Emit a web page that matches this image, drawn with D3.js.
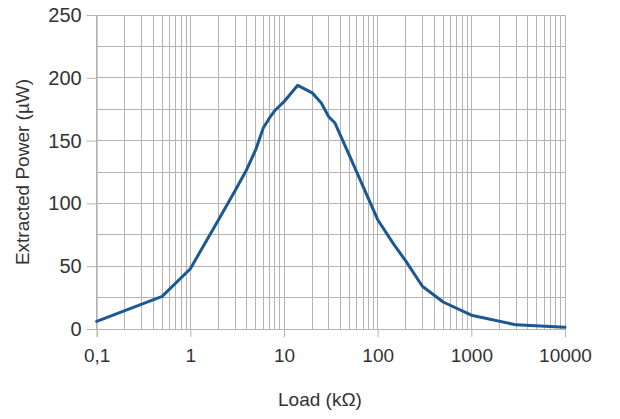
<!DOCTYPE html>
<html>
<head>
<meta charset="utf-8">
<script src="https://cdn.jsdelivr.net/npm/d3@7"></script>
<style>
  body { margin: 0; background: #fff; }
  text { font-family: "Liberation Sans", Arial, sans-serif; fill: #333; }
</style>
</head>
<body>
<div id="chart"></div>
<script>
// valeurs
const loads = [0.1, 0.5, 1, 2, 3, 4, 5, 6, 7, 8, 10, 14, 20, 25, 30, 35, 50, 100, 150, 200, 300, 500, 1000, 3000, 10000];
const power = [6, 26, 48, 87, 110, 127, 143, 160, 168, 174, 181, 194, 188, 180, 169, 164, 138, 87, 67, 54, 34, 21.5, 11, 3.3, 1.3];

const xMajor = [0.1, 1, 10, 100, 1000, 10000];
const xLabels = ["0,1", "1", "10", "100", "1000", "10000"];
const yMajor = [0, 50, 100, 150, 200, 250];
const yMinor = [25, 75, 125, 175, 225];

const W = 620, H = 419;
const svg = d3.select("#chart").append("svg")
    .attr("width", W)
    .attr("height", H);

const x = d3.scaleLog()
    .domain([0.1, 10000])
    .range([96.7, 565]);

const y = d3.scaleLinear()
    .domain([0, 250])
    .range([329, 15]);

const grid = "#b4b4b4";

// grille verticale (1..9 par décade)
svg.append("g")
  .selectAll("line")
  .data(x.ticks())
  .enter().append("line")
    .attr("x1", d => x(d)).attr("x2", d => x(d))
    .attr("y1", y(250)).attr("y2", y(0))
    .attr("stroke", grid)
    .attr("stroke-width", 1)
    .attr("shape-rendering", "crispEdges");

// grille horizontale
svg.append("g")
  .selectAll("line")
  .data(yMajor.concat(yMinor))
  .enter().append("line")
    .attr("x1", x(0.1)).attr("x2", x(10000))
    .attr("y1", d => y(d)).attr("y2", d => y(d))
    .attr("stroke", grid)
    .attr("stroke-width", 1)
    .attr("shape-rendering", "crispEdges");

// axe y
const yAxis = svg.append("g")
    .attr("transform", `translate(${x(0.1)},0)`)
    .call(d3.axisLeft(y).tickValues(yMajor).tickSize(10).tickPadding(5));
yAxis.select(".domain").attr("stroke", grid);
yAxis.selectAll(".tick line").attr("stroke", grid);
yAxis.selectAll("text")
    .style("font-size", "20px")
    .attr("fill", "#333");

// axe x
const xAxis = svg.append("g")
    .attr("transform", `translate(0,${y(0)})`)
    .call(d3.axisBottom(x).tickValues(xMajor)
        .tickFormat((d, i) => xLabels[i])
        .tickSize(8).tickPadding(12));
xAxis.select(".domain").attr("stroke", grid);
xAxis.selectAll(".tick line").attr("stroke", grid);
xAxis.selectAll("text")
    .style("font-size", "19px")
    .attr("fill", "#333");

// courbe
const line = d3.line()
    .x((d, i) => x(loads[i]))
    .y(d => y(d));

svg.append("path")
    .datum(power)
    .attr("d", line)
    .attr("fill", "none")
    .attr("stroke", "#1c5891")
    .attr("stroke-width", 3)
    .attr("stroke-linejoin", "round")
    .attr("stroke-linecap", "round");

// titres des axes
svg.append("text")
    .attr("x", 320)
    .attr("y", 406)
    .attr("text-anchor", "middle")
    .style("font-size", "19px")
    .text("Load (kΩ)");

svg.append("text")
    .attr("transform", `translate(29,${(y(0) + y(250)) / 2}) rotate(-90)`)
    .attr("text-anchor", "middle")
    .style("font-size", "19px")
    .text("Extracted Power (µW)");
</script>
</body>
</html>
